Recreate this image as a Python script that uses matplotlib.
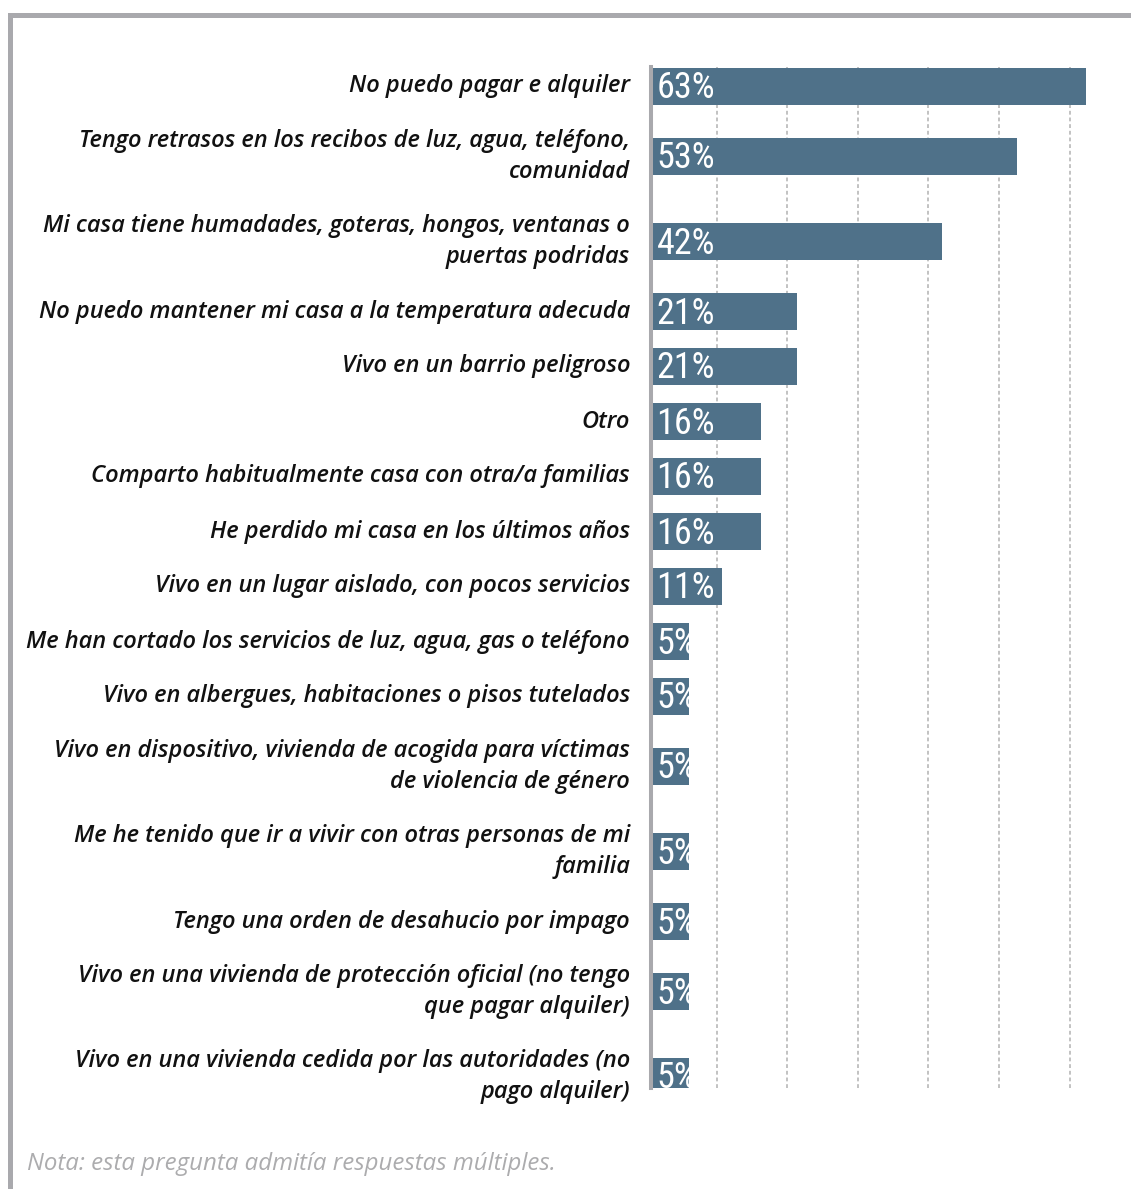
import matplotlib
matplotlib.use("Agg")
import matplotlib.pyplot as plt
import matplotlib.transforms as mtransforms
from matplotlib import font_manager as fm
from matplotlib.patches import Rectangle
import numpy as np

# ---------------- data ----------------
categories = [
    "No puedo pagar e alquiler",
    "Tengo retrasos en los recibos de luz, agua, teléfono,\ncomunidad",
    "Mi casa tiene humadades, goteras, hongos, ventanas o\npuertas podridas",
    "No puedo mantener mi casa a la temperatura adecuda",
    "Vivo en un barrio peligroso",
    "Otro",
    "Comparto habitualmente casa con otra/a familias",
    "He perdido mi casa en los últimos años",
    "Vivo en un lugar aislado, con pocos servicios",
    "Me han cortado los servicios de luz, agua, gas o teléfono",
    "Vivo en albergues, habitaciones o pisos tutelados",
    "Vivo en dispositivo, vivienda de acogida para víctimas\nde violencia de género",
    "Me he tenido que ir a vivir con otras personas de mi\nfamilia",
    "Tengo una orden de desahucio por impago",
    "Vivo en una vivienda de protección oficial (no tengo\nque pagar alquiler)",
    "Vivo en una vivienda cedida por las autoridades (no\npago alquiler)",
]
values = [63.0, 52.9, 42.1, 21.2, 21.2, 16.0, 16.0, 16.0, 10.3,
          5.6, 5.6, 5.6, 5.6, 5.6, 5.6, 5.6]
value_labels = ["63%", "53%", "42%", "21%", "21%", "16%", "16%", "16%", "11%",
                "5%", "5%", "5%", "5%", "5%", "5%", "5%"]
note = "Nota: esta pregunta admitía respuestas múltiples."

# ---------------- style ----------------
BAR = "#4f7189"
GREY = "#a9a9ad"
GRID = "#b8b8b8"

avail = {f.name for f in fm.fontManager.ttflist}
def pick(names):
    for n in names:
        if n in avail:
            return n
    return "DejaVu Sans"
label_font = pick(["Open Sans", "Noto Sans", "Lato"])
num_font = pick(["Roboto Condensed", "Liberation Sans Narrow", "DejaVu Sans"])

W, H = 1131, 1189
fig = plt.figure(figsize=(W / 100, H / 100), dpi=100)
fig.patch.set_facecolor("white")

ax_left, ax_right, ax_top, ax_bottom = 650.5, 1131, 67, 1088
ax = fig.add_axes([ax_left / W, 1 - ax_bottom / H,
                   (ax_right - ax_left) / W, (ax_bottom - ax_top) / H])
px_per_pct = 6.92
ax.set_xlim(0, (ax_right - ax_left) / px_per_pct)
ax.set_ylim(ax_bottom, ax_top)

# row layout from number of label lines
nlines = np.array([c.count("\n") + 1 for c in categories])
row_h = 55 + 30 * (nlines - 1)
centers = 59 + np.cumsum(row_h) - row_h / 2.0

bars = ax.barh(centers, values, height=37, color=BAR, zorder=2, left=0)

# gridlines
grid_pos = [9.54, 19.75, 29.96, 40.17, 50.38, 60.6]
ax.set_xticks(grid_pos)
ax.set_yticks([])
ax.tick_params(axis="x", length=0, labelbottom=False)
ax.grid(axis="x", color=GRID, linestyle=(0, (2.3, 1.7)), linewidth=1.2, zorder=0)
ax.set_axisbelow(True)

for s in ["top", "right", "bottom"]:
    ax.spines[s].set_visible(False)
ax.spines["left"].set_color(GREY)
ax.spines["left"].set_linewidth(2.9)
ax.spines["left"].set_zorder(3)
ax.patch.set_alpha(0)

# value labels inside bars (clipped to bar)
off = mtransforms.offset_copy(ax.transData, fig=fig, x=6, y=-2, units="dots")
for b, c, lab in zip(bars, centers, value_labels):
    t = ax.text(0, c, lab, transform=off, ha="left", va="center",
                color="white", fontsize=26, family=num_font, zorder=4)
    t.set_clip_on(True)
    t.set_clip_path(b)

# category labels
blend = mtransforms.blended_transform_factory(fig.transFigure, ax.transData)
for c, cat in zip(centers, categories):
    ax.text(630 / W, c, cat, transform=blend, ha="right", va="center",
            multialignment="right", fontsize=17.0, family=label_font,
            style="italic", weight="semibold", color="#111111",
            linespacing=1.36, clip_on=False)

# note
fig.text(27 / W, 1 - 1170 / H, note, ha="left", va="baseline",
         fontsize=17.3, family=label_font, style="italic", weight="normal",
         color="#acacae")

# frame lines (top and left)
fig.add_artist(Rectangle((8 / W, 1 - 18 / H), (W - 8) / W, 5 / H,
                         transform=fig.transFigure, color=GREY, lw=0))
fig.add_artist(Rectangle((8 / W, 0), 4.5 / W, 1 - 13 / H,
                         transform=fig.transFigure, color=GREY, lw=0))

fig.savefig("out.png", dpi=100, facecolor="white")
